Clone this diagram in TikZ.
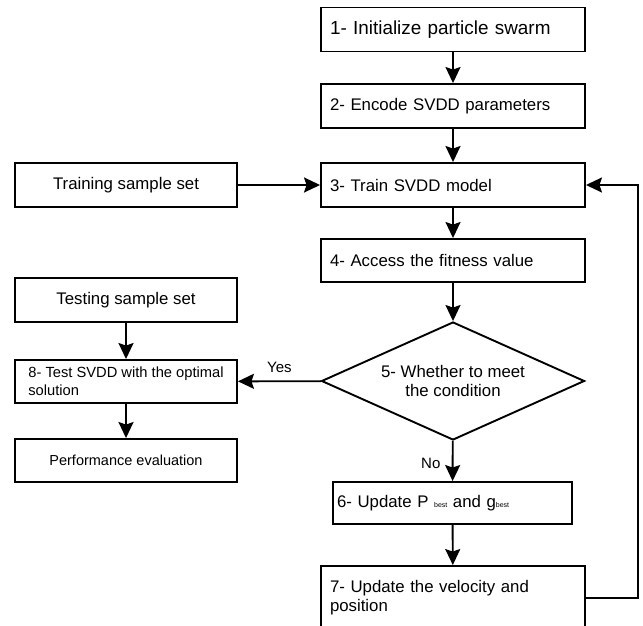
\documentclass[tikz,border=0pt]{standalone}
\usepackage{fontspec}
\setmainfont{Liberation Sans}
\usetikzlibrary{shapes.geometric}
\usetikzlibrary{arrows.meta}

\begin{document}
\begin{tikzpicture}[x=1pt, y=-1pt,
    every node/.style={font=\fontsize{16.8}{19}\selectfont},
    stage/.style={draw, rectangle, line width=1.9pt, inner xsep=9pt, text width=246pt, minimum height=44pt, align=left},
    side/.style={draw, rectangle, line width=1.9pt, minimum width=222pt, minimum height=44pt, align=center},
    cond/.style={draw, diamond, line width=1.9pt, inner sep=0pt, shape aspect=2.23, minimum width=263pt, minimum height=118pt, align=center},
    flow/.style={-{Stealth[length=16pt, width=15pt, inset=2.5pt]}, line width=1.9pt}]
    \clip (0,0) rectangle (643,626);
    % Nodes
    \node[stage, font=\fontsize{18.9}{21}\selectfont] (init) at (453,29.5) {1- Initialize particle swarm};
    \node[stage] (encode) at (453,106) {2- Encode SVDD parameters};
    \node[stage] (train) at (453,185) {3- Train SVDD model};
    \node[stage, minimum height=43pt] (fitness) at (453,260.5) {4- Access the fitness value};
    \node[cond] (check) at (453,381) {5- Whether to meet\\the condition};
    \node[stage, inner xsep=4pt, text width=231pt, minimum height=42pt] (best) at (452.5,503)
        {6- Update P {\fontsize{7}{8}\selectfont best} and g{\fontsize{7}{8}\selectfont best}};
    \node[stage, minimum height=64pt] (move) at (453,598) {7- Update the velocity and\\position};
    \node[side] (trainset) at (126,185) {Training sample set};
    \node[side] (testset) at (126,300) {Testing sample set};
    \node[side, minimum height=43pt, align=left, font=\fontsize{14.7}{18}\selectfont] (test) at (126,381.5)
        {8- Test SVDD with the optimal\\solution};
    \node[side, minimum height=43pt, font=\fontsize{14.5}{17}\selectfont] (perf) at (126,460.5) {Performance evaluation};
    \coordinate (back) at (638,598);

    % Arrows
    \draw[flow] (init) -- (encode);
    \draw[flow] (encode) -- (train);
    \draw[flow] (train) -- (fitness);
    \draw[flow] (fitness) -- (check);
    \draw[flow] (check) -- node[left, xshift=-8pt, yshift=-2pt, font=\fontsize{15}{17}\selectfont] {No} (best);
    \draw[flow] (best) -- (move);
    \draw[flow] (move.east) -- (back) |- (train.east);
    \draw[flow] (trainset) -- (train);
    \draw[flow] (testset) -- (test);
    \draw[flow] (check) -- node[above, yshift=4pt, font=\fontsize{15}{17}\selectfont] {Yes} (test);
    \draw[flow] (test) -- (perf);
\end{tikzpicture}
\end{document}
